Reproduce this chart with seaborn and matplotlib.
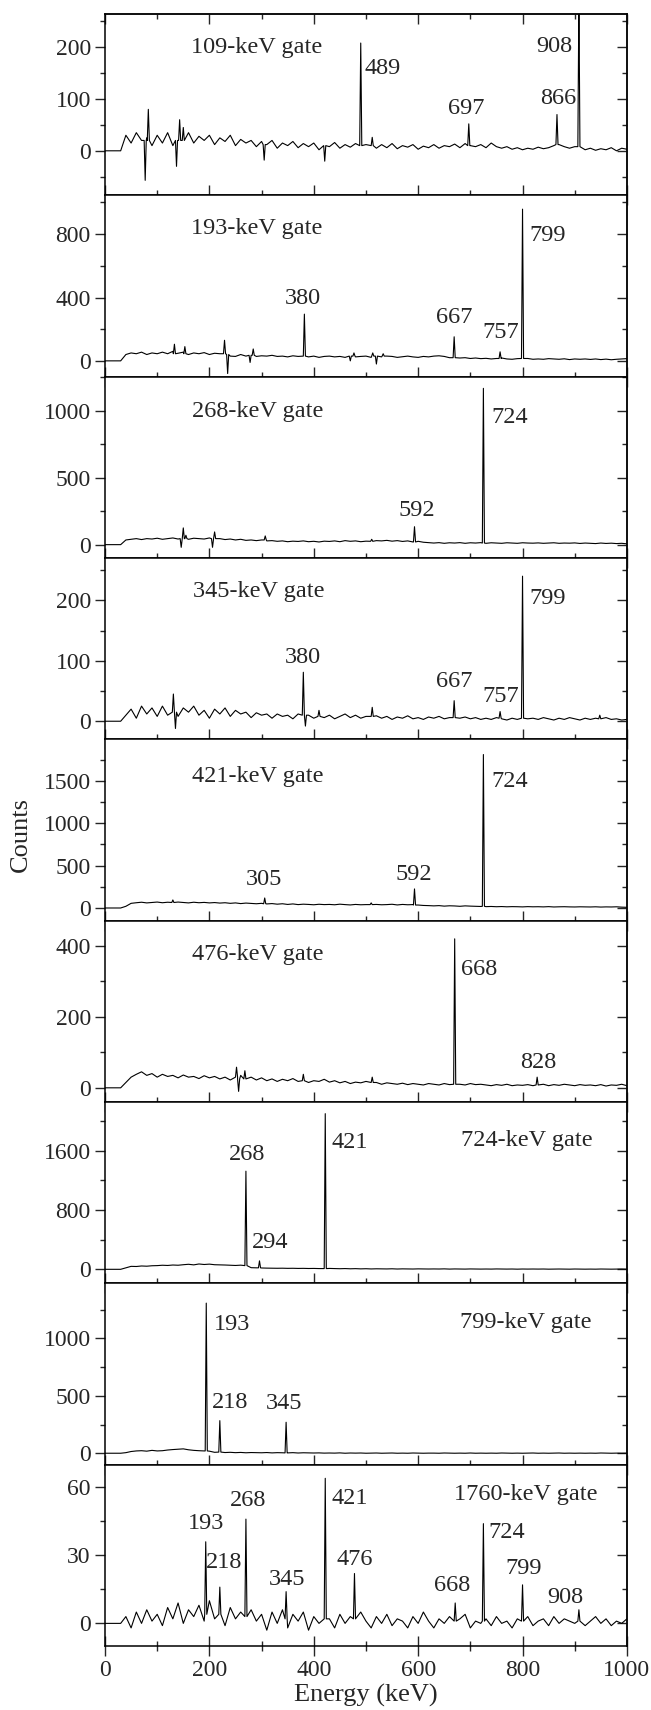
import numpy as np
import pandas as pd
import matplotlib
matplotlib.use("Agg")
import matplotlib.pyplot as plt
from matplotlib.ticker import MultipleLocator
import seaborn as sns

# energy of the background samples (keV): 0 keV, then 30..1000 in 10 keV steps
energy = [0] + list(range(30, 1001, 10))

# background counts (one value per energy above)
bg_109 = [0,
          0, 30, 15, 35, 20, 25, 10, 30, 15, 35,
          10, 20, 25, 35, 15, 28, 20, 30, 12, 25,
          18, 30, 10, 22, 15, 20, 8, 18, 12, 20,
          5, 15, 10, 18, 6, 14, 8, 15, 2, 12,
          8, 16, 5, 12, 7, 14, 8, 12, 10, 5,
          12, 6, 14, 4, 10, 7, 12, 3, 9, 6,
          12, 5, 10, 8, 13, 6, 14, 10, 8, 12,
          6, 15, 8, 5, 8, 3, 6, 2, 5, 3,
          7, 4, 6, 10, 12, 8, 5, 8, 4, 2,
          5, 1, 4, 2, 6, 0, 5, 3]
bg_193 = [0,
          0, 40, 50, 45, 55, 40, 50, 45, 55, 45,
          60, 48, 55, 40, 50, 45, 52, 40, 48, 45,
          35, 30, 28, 40, 30, 35, 28, 32, 30, 35,
          28, 30, 25, 32, 28, 30, 25, 30, 22, 28,
          30, 25, 28, 22, 30, 25, 28, 30, 22, 28,
          25, 30, 28, 22, 26, 30, 25, 22, 28, 25,
          30, 32, 28, 20, 22, 18, 20, 15, 18, 14,
          16, 12, 15, 18, 12, 10, 14, 12, 15, 10,
          12, 10, 14, 12, 10, 13, 8, 12, 10, 12,
          9, 12, 8, 11, 7, 10, 12, 14]
bg_268 = [0,
          0, 35, 40, 45, 38, 45, 42, 48, 40, 45,
          50, 42, 55, 40, 48, 45, 42, 50, 40, 45,
          38, 42, 35, 40, 32, 35, 30, 35, 28, 30,
          25, 28, 22, 26, 24, 28, 22, 25, 20, 26,
          24, 28, 22, 30, 25, 28, 22, 26, 24, 30,
          28, 32, 26, 30, 24, 28, 20, 25, 18, 15,
          12, 15, 10, 14, 12, 15, 10, 14, 12, 15,
          10, 14, 12, 10, 14, 12, 10, 14, 12, 11,
          13, 10, 12, 14, 10, 12, 11, 13, 9, 12,
          10, 8, 12, 9, 11, 8, 10, 6]
bg_345 = [0,
          0, 10, 20, 5, 25, 12, 22, 8, 25, 10,
          20, 8, 22, 15, 25, 10, 18, 5, 20, 12,
          22, 8, 18, 12, 15, 6, 14, 10, 12, 5,
          12, 8, 10, 4, 12, 8, 10, 5, 12, 6,
          10, 4, 8, 12, 6, 10, 5, 8, 4, 9,
          5, 8, 3, 7, 5, 9, 4, 6, 3, 7,
          5, 8, 4, 6, 3, 5, 7, 4, 6, 3,
          5, 3, 6, 4, 2, 5, 3, 6, 4, 5,
          3, 6, 4, 2, 5, 3, 6, 4, 2, 5,
          3, 5, 2, 6, 3, 4, 2, 3]
bg_421 = [0,
          0, 20, 55, 62, 68, 60, 65, 70, 62, 68,
          64, 70, 65, 60, 68, 62, 66, 60, 64, 58,
          62, 55, 60, 52, 58, 54, 50, 55, 48, 52,
          45, 50, 42, 48, 40, 45, 42, 38, 44, 40,
          42, 38, 45, 40, 36, 42, 38, 40, 35, 42,
          38, 40, 44, 36, 42, 38, 40, 35, 30, 28,
          25, 28, 22, 26, 24, 20, 25, 22, 20, 18,
          16, 18, 15, 17, 14, 16, 15, 13, 16, 14,
          15, 13, 16, 12, 14, 15, 13, 12, 14, 13,
          12, 14, 11, 13, 12, 14, 10, 8]
bg_476 = [0,
          0, 15, 30, 38, 45, 35, 40, 30, 38, 32,
          35, 28, 36, 30, 32, 26, 34, 28, 32, 25,
          30, 22, 28, 35, 25, 30, 22, 28, 20, 25,
          18, 24, 20, 26, 18, 22, 15, 20, 18, 24,
          16, 20, 14, 18, 12, 16, 14, 18, 12, 15,
          10, 14, 12, 10, 13, 9, 12, 10, 8, 12,
          10, 8, 12, 9, 11, 10, 8, 12, 9, 10,
          8, 6, 9, 7, 10, 6, 8, 7, 9, 6,
          8, 10, 6, 9, 7, 10, 8, 6, 9, 7,
          8, 6, 9, 5, 8, 7, 10, 6]
bg_724 = [0,
          0, 20, 40, 38, 45, 42, 48, 50, 55, 52,
          58, 55, 62, 68, 60, 72, 65, 70, 62, 60,
          58, 55, 52, 56, 50, 22, 20, 18, 16, 15,
          14, 15, 13, 14, 12, 13, 11, 12, 10, 8,
          12, 10, 8, 10, 7, 9, 6, 8, 5, 7,
          6, 5, 7, 4, 6, 5, 4, 6, 5, 4,
          5, 4, 6, 3, 5, 4, 3, 5, 4, 3,
          4, 3, 5, 4, 3, 4, 2, 4, 3, 4,
          3, 4, 2, 3, 4, 3, 2, 4, 3, 2,
          3, 2, 4, 3, 2, 3, 4, 2]
bg_799 = [0,
          0, 5, 15, 20, 22, 18, 25, 20, 22, 28,
          32, 35, 38, 30, 25, 22, 20, 18, 8, 10,
          6, 8, 5, 7, 4, 6, 5, 4, 6, 3,
          5, 4, 3, 5, 2, 4, 3, 2, 3, 1,
          2, 1, 3, 0, 2, 1, 2, 0, 1, 2,
          0, 1, 2, 0, 1, 0, 2, 1, 0, 1,
          1, 0, 2, 1, 0, 1, 0, 2, 0, 1,
          0, 1, 0, 2, 1, 0, 1, 0, 1, 2,
          0, 1, 0, 1, 2, 0, 1, 0, 1, 0,
          1, 0, 2, 1, 0, 1, 0, 1]
bg_1760 = [0,
           0, 3, -2, 5, 0, 6, 1, 4, -1, 7,
           2, 9, 0, 6, 3, 8, 1, 10, 2, 6,
           -1, 7, 2, 5, -2, 6, 1, 4, -3, 5,
           0, 6, -2, 4, 1, 5, -3, 3, 0, 4,
           2, -2, 4, 0, 3, -1, 5, 1, -2, 3,
           0, 4, -1, 2, 1, -2, 3, 0, 5, 1,
           -2, 2, 0, 3, -1, 2, 4, -2, 1, 0,
           2, -1, 3, 0, 1, -2, 2, 0, 3, -1,
           1, 2, -1, 3, 0, 2, 1, 0, 2, -1,
           1, 3, 0, 2, -1, 1, 0, 2]

# sharp features: (energy keV, counts at top, counts at foot)
peaks_109 = [(77, -57, 20), (83, 80, 20), (137, -30, 20), (143, 60, 20), (150, 45, 20),
             (305, -18, 12), (421, -20, 10), (490, 208, 10), (512, 26, 10),
             (697, 52, 10), (866, 70, 12), (908, 300, 8)]
peaks_193 = [(133, 105, 45), (153, 90, 45), (229, 130, 45), (235, -80, 40), (278, -10, 35),
             (284, 75, 35), (382, 295, 30), (470, 0, 30), (477, 50, 30), (513, 50, 30),
             (520, -20, 30), (533, 45, 30), (669, 152, 20), (757, 57, 15), (800, 958, 15)]
peaks_268 = [(146, -20, 45), (150, 125, 45), (155, 70, 45), (206, -20, 45), (210, 95, 45),
             (307, 65, 35), (511, 40, 25), (593, 134, 20), (725, 1168, 12)]
peaks_345 = [(131, 45, 15), (135, -12, 15), (380, 81, 10), (384, -8, 10), (410, 18, 8),
             (512, 23, 8), (669, 34, 6), (757, 16, 5), (800, 240, 5), (948, 10, 4)]
peaks_421 = [(130, 95, 65), (306, 118, 50), (510, 60, 40), (593, 225, 35), (725, 1811, 20)]
peaks_476 = [(252, 58, 30), (256, -10, 25), (268, 48, 25), (380, 38, 20), (512, 30, 15),
             (670, 419, 10), (828, 30, 8)]
peaks_724 = [(270, 1326, 50), (296, 114, 20), (422, 2103, 10)]
peaks_799 = [(194, 1308, 20), (220, 284, 10), (347, 270, 3)]
peaks_1760 = [(193, 36, 4), (220, 16, 4), (270, 46, 3), (347, 14, 2), (422, 64, 2),
              (478, 22, 2), (671, 9, 1), (725, 44, 1), (800, 17, 1), (908, 6, 1)]

gates = ["109", "193", "268", "345", "421", "476", "724", "799", "1760"]
backgrounds = [bg_109, bg_193, bg_268, bg_345, bg_421, bg_476, bg_724, bg_799, bg_1760]
peak_lists = [peaks_109, peaks_193, peaks_268, peaks_345, peaks_421, peaks_476,
              peaks_724, peaks_799, peaks_1760]

# axis ranges and y tick steps (major) per panel
y_lims = [(-86, 264), (-100, 1045), (-100, 1255), (-30, 270), (-150, 1990),
          (-40, 470), (-190, 2260), (-100, 1480), (-10, 70)]
y_steps = [100, 400, 500, 100, 500, 200, 800, 500, 30]

# label placement: gate label (x, y) and peak labels (text, x, y) in data units
gate_pos = [(164, 200), (165, 836), (166, 994), (168, 214), (166, 1555),
            (166, 374), (683, 1737), (680, 1140), (669, 57)]
peak_labels = [
    [("489", 498, 159), ("697", 658, 82), ("866", 834, 100), ("908", 827, 201)],
    [("380", 345, 394), ("667", 635, 274), ("757", 724, 179), ("799", 814, 789)],
    [("592", 563, 254), ("724", 740, 951)],
    [("380", 345, 106), ("667", 635, 65), ("757", 724, 41), ("799", 814, 203)],
    [("305", 269, 335), ("592", 557, 391), ("724", 740, 1488)],
    [("668", 683, 332), ("828", 796, 72)],
    [("268", 237, 1554), ("294", 281, 366), ("421", 434, 1714)],
    [("193", 208, 1125), ("218", 204, 444), ("345", 309, 429)],
    [("193", 159, 44), ("218", 193, 27), ("268", 240, 54), ("345", 313, 19.5),
     ("421", 434, 55), ("476", 443, 28), ("668", 631, 16.6), ("724", 734, 40),
     ("799", 768, 24), ("908", 848, 11.5)],
]

HALF_WIDTH = 2  # keV, half base width of a drawn peak


def build_spectrum(bg, feats):
    """Merge background samples with the sharp features into one trace"""
    e = np.array(energy, dtype=float)
    c = np.array(bg, dtype=float)
    fe = np.array([f[0] for f in feats], dtype=float)
    keep = np.array([np.all(np.abs(fe - x) > HALF_WIDTH) for x in e])
    xs = list(e[keep])
    ys = list(c[keep])
    for pe, ph, pb in feats:
        xs += [pe - HALF_WIDTH, pe, pe + HALF_WIDTH]
        ys += [pb, ph, pb]
    order = np.argsort(xs, kind="stable")
    return pd.DataFrame({"energy": np.array(xs)[order], "counts": np.array(ys)[order]})


sns.set_theme(style="ticks")
plt.rcParams["font.family"] = ["Liberation Serif", "DejaVu Serif"]
plt.rcParams["axes.linewidth"] = 1.1

TICK_FS = 17
LABEL_FS = 17.5
AXIS_FS = 19

fig, axes = plt.subplots(9, 1, figsize=(6.51, 17.10), dpi=100, sharex=True,
                         gridspec_kw={"hspace": 0})
fig.subplots_adjust(left=0.1613, right=0.963, top=0.9918, bottom=0.0374)

for i, ax in enumerate(axes):
    df = build_spectrum(backgrounds[i], peak_lists[i])
    sns.lineplot(data=df, x="energy", y="counts", ax=ax, color="black",
                 linewidth=0.8, estimator=None, sort=False)
    ax.set_xlabel("")
    ax.set_ylabel("")
    ax.set_xlim(0, 1000)
    ax.set_ylim(*y_lims[i])

    ax.xaxis.set_major_locator(MultipleLocator(200))
    ax.xaxis.set_minor_locator(MultipleLocator(100))
    ax.yaxis.set_major_locator(MultipleLocator(y_steps[i]))
    ax.yaxis.set_minor_locator(MultipleLocator(y_steps[i] / 2))

    ax.tick_params(axis="x", which="both", direction="inout", top=False, bottom=True,
                   width=1.0, labelsize=TICK_FS, pad=3)
    ax.tick_params(axis="x", which="major", length=14)
    ax.tick_params(axis="x", which="minor", length=7)
    ax.tick_params(axis="y", which="both", direction="out", left=True, right=False,
                   width=1.0, labelsize=TICK_FS, pad=3)
    ax.tick_params(axis="y", which="major", length=7.2)
    ax.tick_params(axis="y", which="minor", length=3.6)

    # mirrored ticks on the right side point inwards
    sec = ax.secondary_yaxis("right")
    sec.yaxis.set_major_locator(MultipleLocator(y_steps[i]))
    sec.yaxis.set_minor_locator(MultipleLocator(y_steps[i] / 2))
    sec.tick_params(axis="y", which="both", direction="in", labelright=False, width=1.0)
    sec.tick_params(axis="y", which="major", length=7.2)
    sec.tick_params(axis="y", which="minor", length=3.6)
    sec.spines["right"].set_linewidth(1.1)

    for s in ax.spines.values():
        s.set_linewidth(1.1)
        s.set_color("black")

    gx, gy = gate_pos[i]
    ax.text(gx, gy, f"{gates[i]}-keV gate", ha="left", va="center", fontsize=LABEL_FS)
    for txt, tx, ty in peak_labels[i]:
        ax.text(tx, ty, txt, ha="left", va="center", fontsize=LABEL_FS)

top = axes[0].secondary_xaxis("top")
top.xaxis.set_major_locator(MultipleLocator(200))
top.xaxis.set_minor_locator(MultipleLocator(100))
top.tick_params(axis="x", which="both", direction="in", labeltop=False, width=1.0)
top.tick_params(axis="x", which="major", length=7)
top.tick_params(axis="x", which="minor", length=3.5)

fig.text(0.032, 0.5117, "Counts", rotation=90, ha="center", va="center", fontsize=AXIS_FS)
fig.text(0.562, 0.0152, "Energy (keV)", ha="center", va="top", fontsize=AXIS_FS)

fig.savefig("out.png", dpi=100)
